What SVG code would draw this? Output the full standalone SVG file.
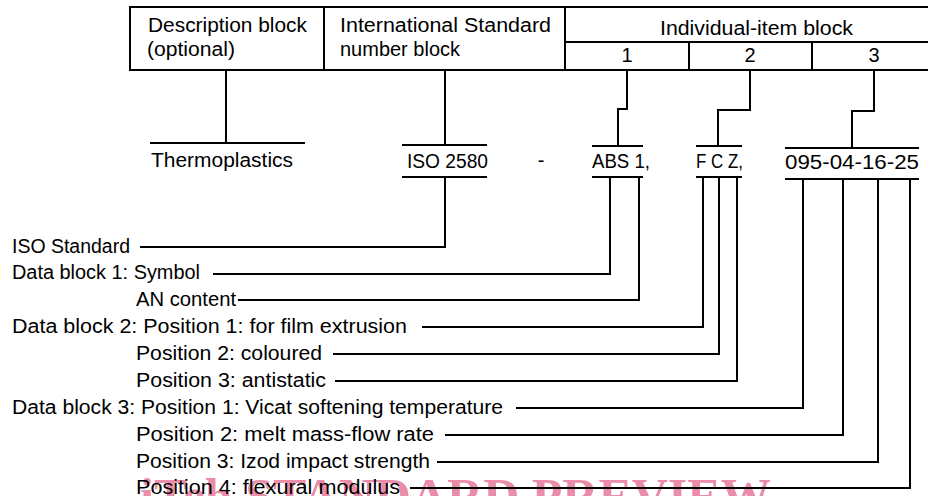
<svg xmlns="http://www.w3.org/2000/svg" width="928" height="496" viewBox="0 0 928 496">
<style>
  text { font-family: "Liberation Sans", Arial, sans-serif; font-size: 20px; fill: #000; }
  .ln { stroke: #000; stroke-width: 2; fill: none; }
  .c { text-anchor: middle; }
  .wm { font-family: "Liberation Serif", "Times New Roman", serif; font-weight: bold; font-size: 50px; fill: #e8819f; opacity: 0.9; }
</style>
<rect width="928" height="496" fill="#fff"/>

<g id="watermark">
  <text class="wm" x="140" y="513">iTeh STANDARD PREVIEW</text>
</g>

<g id="header-table">
  <path class="ln" d="M930 7 H130 V70 H930 M324 7 V70 M565 7 V70 M565 42 H930 M689 42 V70 M812 42 V70"/>
  <text x="148" y="32" textLength="159" lengthAdjust="spacingAndGlyphs">Description block</text>
  <text x="147" y="56" textLength="88" lengthAdjust="spacingAndGlyphs">(optional)</text>
  <text x="340" y="32" textLength="211" lengthAdjust="spacingAndGlyphs">International Standard</text>
  <text x="340" y="56" textLength="120" lengthAdjust="spacingAndGlyphs">number block</text>
  <text x="660" y="35" textLength="193" lengthAdjust="spacingAndGlyphs">Individual-item block</text>
  <text class="c" x="627" y="62">1</text>
  <text class="c" x="750" y="62">2</text>
  <text class="c" x="874" y="62">3</text>
</g>

<g id="node-thermoplastics">
  <path class="ln" d="M150 143 H305"/>
  <text x="151" y="167" textLength="142" lengthAdjust="spacingAndGlyphs">Thermoplastics</text>
</g>
<g id="node-iso2580">
  <path class="ln" d="M402 145 H487 M402 177 H487"/>
  <text x="407" y="168" textLength="81" lengthAdjust="spacingAndGlyphs">ISO 2580</text>
</g>
<g id="node-dash">
  <text x="541" y="167" class="c">-</text>
</g>
<g id="node-abs">
  <path class="ln" d="M592 146 H643 M592 177 H643"/>
  <text x="592" y="168" textLength="58" lengthAdjust="spacingAndGlyphs">ABS 1,</text>
</g>
<g id="node-fcz">
  <path class="ln" d="M696 146 H742 M696 177 H742"/>
  <text x="696" y="168" textLength="47" lengthAdjust="spacingAndGlyphs">F C Z,</text>
</g>
<g id="node-numbers">
  <path class="ln" d="M785 148 H919 M785 179 H919"/>
  <text x="785" y="169" textLength="134" lengthAdjust="spacingAndGlyphs">095-04-16-25</text>
</g>

<g id="labels">
  <text x="12" y="253" textLength="118" lengthAdjust="spacingAndGlyphs">ISO Standard</text>
  <text x="12" y="279" textLength="188" lengthAdjust="spacingAndGlyphs">Data block 1: Symbol</text>
  <text x="136" y="306" textLength="100" lengthAdjust="spacingAndGlyphs">AN content</text>
  <text x="12" y="333" textLength="395" lengthAdjust="spacingAndGlyphs">Data block 2: Position 1: for film extrusion</text>
  <text x="136" y="360" textLength="186" lengthAdjust="spacingAndGlyphs">Position 2: coloured</text>
  <text x="136" y="387" textLength="190" lengthAdjust="spacingAndGlyphs">Position 3: antistatic</text>
  <text x="12" y="414" textLength="491" lengthAdjust="spacingAndGlyphs">Data block 3: Position 1: Vicat softening temperature</text>
  <text x="136" y="441" textLength="298" lengthAdjust="spacingAndGlyphs">Position 2: melt mass-flow rate</text>
  <text x="136" y="468" textLength="294" lengthAdjust="spacingAndGlyphs">Position 3: Izod impact strength</text>
  <text x="136" y="494" textLength="264" lengthAdjust="spacingAndGlyphs">Position 4: flexural modulus</text>
</g>

<g id="connectors">
  <path class="ln" d="M226 70 V143"/>
  <path class="ln" d="M445 70 V145"/>
  <path class="ln" d="M627 70 V109 H618 V146"/>
  <path class="ln" d="M750 70 V110 H718 V146"/>
  <path class="ln" d="M874 70 V111 H852 V148"/>
  <path class="ln" d="M140 247 H445 V177"/>
  <path class="ln" d="M213 274 H610 V177"/>
  <path class="ln" d="M238 300 H639 V177"/>
  <path class="ln" d="M422 327 H703 V177"/>
  <path class="ln" d="M333 354 H719 V177"/>
  <path class="ln" d="M335 381 H737 V177"/>
  <path class="ln" d="M516 408 H803 V179"/>
  <path class="ln" d="M445 435 H843 V179"/>
  <path class="ln" d="M437 462 H878 V179"/>
  <path class="ln" d="M410 488 H910 V179"/>
</g>
</svg>
